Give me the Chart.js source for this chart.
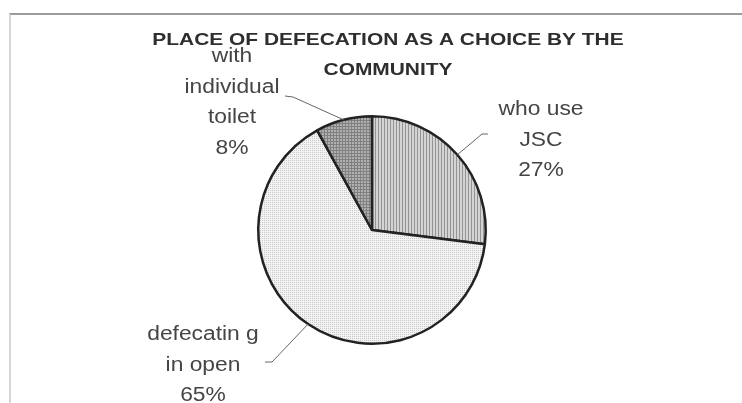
<!DOCTYPE html>
<html>
<head>
<meta charset="utf-8">
<script src="https://cdn.jsdelivr.net/npm/chart.js@4.4.1/dist/chart.umd.min.js"></script>
<style>
  html, body { margin: 0; padding: 0; background: #fff; }
  #wrap { position: relative; width: 742px; height: 403px; overflow: hidden; }
  #frame { position: absolute; left: 9px; top: 13px; right: -4px; bottom: -4px;
           border-top: 2px solid #9c9c9c; border-left: 2px solid #d6d6d6; }
  canvas { position: absolute; left: 0; top: 0; }
</style>
</head>
<body>
<div id="wrap">
  <div id="frame"></div>
  <canvas id="pieChart" width="742" height="403"></canvas>
</div>
<script>
// donnees
const categories = ['who use JSC', 'defecating in open', 'with individual toilet'];
const percents = [27, 65, 8];
const labelNames = [['who use', 'JSC'], ['defecatin g', 'in open'], ['with', 'individual', 'toilet']];
const titleLines = ['PLACE OF DEFECATION AS A CHOICE BY THE', 'COMMUNITY'];

// petites textures en noir et blanc, comme le scan
function makePattern(w, h, draw) {
  let c = document.createElement('canvas');
  c.width = w; c.height = h;
  let g = c.getContext('2d');
  draw(g);
  return g.createPattern(c, 'repeat');
}

let ctx = document.getElementById('pieChart').getContext('2d');

let stripes = makePattern(3, 1, g => {
  g.fillStyle = '#d4d4d4'; g.fillRect(0, 0, 3, 1);
  g.fillStyle = '#949494'; g.fillRect(0, 0, 1, 1);
});
let dots = makePattern(2, 2, g => {
  g.fillStyle = '#f3f3f3'; g.fillRect(0, 0, 2, 2);
  g.fillStyle = '#c8c8c8'; g.fillRect(0, 0, 1, 1);
});
let grid = makePattern(3, 3, g => {
  g.fillStyle = '#b0b0b0'; g.fillRect(0, 0, 3, 3);
  g.fillStyle = '#808080'; g.fillRect(0, 0, 3, 1); g.fillRect(0, 0, 1, 3);
});

// texte un peu etire, le scan est plus large que haut
function stretchedText(c, txt, x, y, size, bold, sx) {
  c.save();
  c.translate(x, y);
  c.scale(sx, 1);
  c.font = (bold ? 'bold ' : '') + size + 'px "Liberation Sans", Arial, sans-serif';
  c.textAlign = 'center';
  c.textBaseline = 'alphabetic';
  c.fillText(txt, 0, 0);
  c.restore();
}

// positions des etiquettes (centre x, premiere ligne) et depart du trait
const labelPlaces = [
  { x: 541, y: 115, start: [488, 134], knee: [482, 134] },
  { x: 203, y: 340, start: [265, 362], knee: [272, 362] },
  { x: 232, y: 62,  start: [285, 96],  knee: [293, 97] }
];

const outsideLabels = {
  id: 'outsideLabels',
  afterDraw(chart) {
    let c = chart.ctx;
    let arcs = chart.getDatasetMeta(0).data;
    c.save();
    arcs.forEach((arc, i) => {
      let p = arc.getProps(['x', 'y', 'startAngle', 'endAngle', 'outerRadius'], true);
      let mid = (p.startAngle + p.endAngle) / 2;
      let ex = p.x + Math.cos(mid) * p.outerRadius;
      let ey = p.y + Math.sin(mid) * p.outerRadius;
      let pl = labelPlaces[i];
      c.strokeStyle = '#666';
      c.lineWidth = 1;
      c.beginPath();
      c.moveTo(pl.start[0], pl.start[1]);
      c.lineTo(pl.knee[0], pl.knee[1]);
      c.lineTo(ex, ey);
      c.stroke();

      let lines = labelNames[i].concat([percents[i] + '%']);
      c.fillStyle = '#454545';
      lines.forEach((ln, k) => {
        stretchedText(c, ln, pl.x, pl.y + k * 30.5, 19.5, false, 1.17);
      });
    });
    c.fillStyle = '#2e2e2e';
    titleLines.forEach((ln, k) => {
      stretchedText(c, ln, 388, 45 + k * 30, 17, true, 1.23);
    });
    c.restore();
  }
};

new Chart(ctx, {
  type: 'pie',
  data: {
    labels: categories,
    datasets: [{
      data: percents,
      backgroundColor: [stripes, dots, grid],
      borderColor: '#222',
      borderWidth: 2.5
    }]
  },
  options: {
    responsive: false,
    devicePixelRatio: 1,
    animation: false,
    layout: { padding: { left: 257, right: 255, top: 115, bottom: 58 } },
    plugins: {
      legend: { display: false },
      title: { display: false },
      tooltip: { enabled: false }
    }
  },
  plugins: [outsideLabels]
});
</script>
</body>
</html>
